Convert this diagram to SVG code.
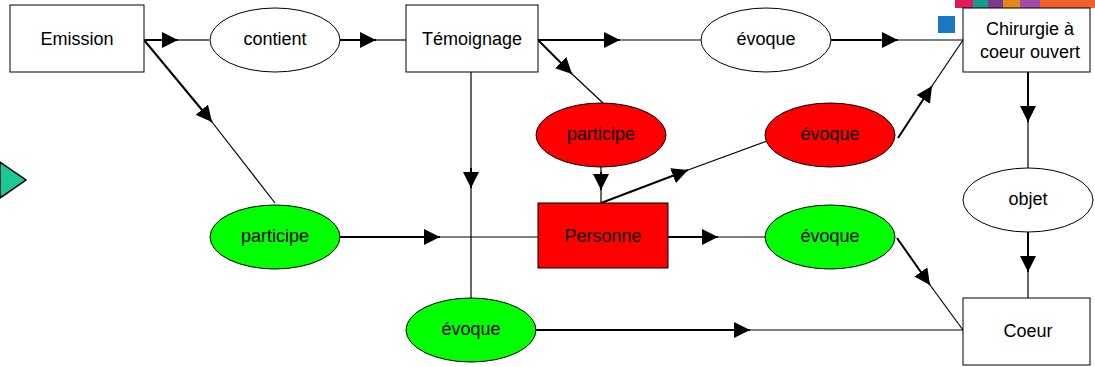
<svg xmlns="http://www.w3.org/2000/svg" width="1095" height="367" viewBox="0 0 1095 367">
<style>
.box{stroke:#000;stroke-width:1}
.t{font-family:"Liberation Sans",Arial,sans-serif;font-size:18px;fill:#000;text-anchor:middle;dominant-baseline:central}
.thick{stroke:#000;stroke-width:2;fill:none}
.thin{stroke:#000;stroke-width:1.2;fill:none}
</style>
<defs>
<marker id="ah" markerUnits="userSpaceOnUse" markerWidth="18" markerHeight="16" refX="16" refY="8" orient="auto" viewBox="0 0 18 16">
<path d="M0,0 L16,8 L0,16 Z" fill="#000"/>
</marker>
</defs>
<rect x="0" y="0" width="1095" height="367" fill="#fff"/>
<g id="deco">
<polygon points="0,162 26,180 0,198" fill="#1BC89A" stroke="#000" stroke-width="1.5"/>
<rect x="955" y="0" width="18" height="8" fill="#E0195A"/>
<rect x="973" y="0" width="15" height="8" fill="#169A8C"/>
<rect x="988" y="0" width="15" height="8" fill="#7B3A8E"/>
<rect x="1003" y="0" width="17" height="8" fill="#E08A1E"/>
<rect x="1020" y="0" width="20" height="8" fill="#A54AA8"/>
<rect x="1040" y="0" width="55" height="8" fill="#F0602A"/>
<rect x="938" y="16" width="17" height="17" fill="#1A78C8"/>
</g>
<g id="connectors">
<path class="thick" d="M144,40 L178,40" marker-end="url(#ah)"/><path class="thin" d="M178,40 L209,40"/>
<path class="thick" d="M144,40 L212,122" marker-end="url(#ah)"/><path class="thin" d="M212,122 L275,203"/>
<path class="thick" d="M340,40 L376,40" marker-end="url(#ah)"/><path class="thin" d="M376,40 L406,40"/>
<path class="thick" d="M538,40 L620,40" marker-end="url(#ah)"/><path class="thin" d="M620,40 L701,40"/>
<path class="thick" d="M538,40 L572,74" marker-end="url(#ah)"/><path class="thin" d="M572,74 L603,103"/>
<path class="thick" d="M831,40 L898,40" marker-end="url(#ah)"/><path class="thin" d="M898,40 L963,40"/>
<path class="thick" d="M898,138 L932,86" marker-end="url(#ah)"/><path class="thin" d="M932,86 L963,40"/>
<path class="thin" d="M471,72 L471,168"/><path class="thick" d="M471,168 L471,188" marker-end="url(#ah)"/><path class="thin" d="M471,188 L471,298"/>
<path class="thick" d="M340,237 L440,237" marker-end="url(#ah)"/><path class="thin" d="M440,237 L538,237"/>
<path class="thin" d="M601,167 L601,172"/><path class="thick" d="M601,172 L601,190" marker-end="url(#ah)"/><path class="thin" d="M601,190 L601,203"/>
<path class="thick" d="M601,203 L688,170" marker-end="url(#ah)"/><path class="thin" d="M688,170 L770,140"/>
<path class="thick" d="M668,237 L718,237" marker-end="url(#ah)"/><path class="thin" d="M718,237 L766,237"/>
<path class="thick" d="M897,238 L930,285" marker-end="url(#ah)"/><path class="thin" d="M930,285 L963,330"/>
<path class="thick" d="M536,330 L750,330" marker-end="url(#ah)"/><path class="thin" d="M750,330 L963,330"/>
<path class="thick" d="M1028,72 L1028,122" marker-end="url(#ah)"/><path class="thin" d="M1028,122 L1028,168"/>
<path class="thick" d="M1028,232 L1028,272" marker-end="url(#ah)"/><path class="thin" d="M1028,272 L1028,298"/>
</g>
<g id="emission"><rect class="box" x="10" y="5" width="134" height="67" fill="#fff"/><text class="t" x="77" y="39">Emission</text></g>
<g id="contient"><ellipse class="box" cx="275" cy="40" rx="65" ry="32" fill="#fff"/><text class="t" x="275" y="39">contient</text></g>
<g id="temoignage"><rect class="box" x="406" y="5" width="132" height="67" fill="#fff"/><text class="t" x="472" y="39">Témoignage</text></g>
<g id="evoque-top"><ellipse class="box" cx="766" cy="40" rx="65" ry="32" fill="#fff"/><text class="t" x="766" y="39">évoque</text></g>
<g id="chirurgie"><rect class="box" x="963" y="8" width="127" height="64" fill="#fff"/><text class="t" x="1030" y="29">Chirurgie à</text><text class="t" x="1030" y="52">coeur ouvert</text></g>
<g id="participe-red"><ellipse class="box" cx="601" cy="135" rx="65" ry="32" fill="#f00"/><text class="t" x="601" y="134">participe</text></g>
<g id="evoque-red"><ellipse class="box" cx="830" cy="135" rx="65" ry="32" fill="#f00"/><text class="t" x="830" y="134">évoque</text></g>
<g id="objet"><ellipse class="box" cx="1028" cy="200" rx="65" ry="32" fill="#fff"/><text class="t" x="1028" y="199">objet</text></g>
<g id="participe-green"><ellipse class="box" cx="275" cy="237" rx="65" ry="32" fill="#0f0"/><text class="t" x="275" y="236">participe</text></g>
<g id="personne"><rect class="box" x="538" y="203" width="130" height="65" fill="#f00"/><text class="t" x="603" y="236">Personne</text></g>
<g id="evoque-green"><ellipse class="box" cx="830" cy="237" rx="65" ry="32" fill="#0f0"/><text class="t" x="830" y="236">évoque</text></g>
<g id="evoque-bottom"><ellipse class="box" cx="471" cy="330" rx="65" ry="32" fill="#0f0"/><text class="t" x="471" y="329">évoque</text></g>
<g id="coeur"><rect class="box" x="963" y="298" width="127" height="67" fill="#fff"/><text class="t" x="1028" y="331">Coeur</text></g>
</svg>
